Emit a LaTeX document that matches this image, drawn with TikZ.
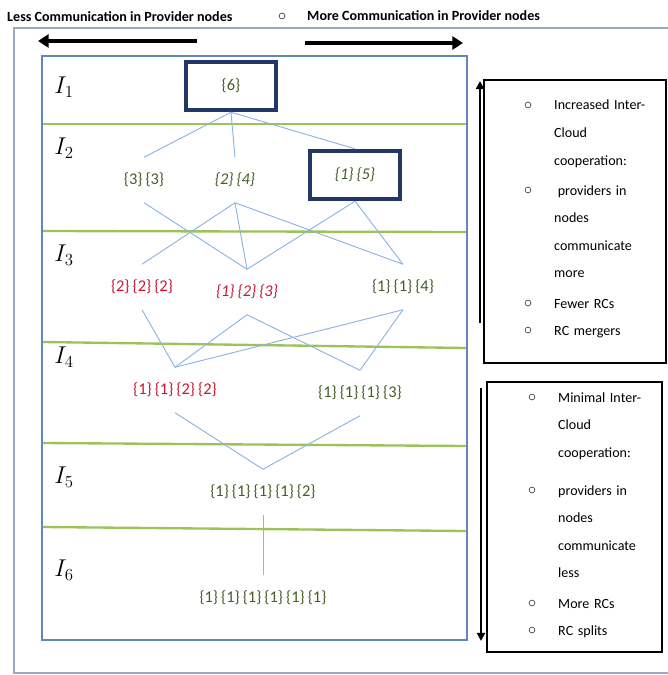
\documentclass[tikz,border=0pt]{standalone}
\usepackage{fontspec}
\setmainfont{Carlito}
\usepackage{tikz}
\usetikzlibrary{positioning,arrows.meta}

\definecolor{linkblue}{RGB}{141,179,226}
\definecolor{framblue}{RGB}{95,135,185}
\definecolor{outgray}{RGB}{150,170,195}
\definecolor{bandgreen}{RGB}{155,195,90}
\definecolor{boxnavy}{RGB}{35,55,100}
\definecolor{partgreen}{RGB}{70,95,40}
\definecolor{partred}{RGB}{200,25,50}

\newcommand{\bl}[1]{\{#1\}}
\newcommand{\gp}{\hspace{2.6pt}}

\begin{document}
\begin{tikzpicture}[x=0.03cm,y=-0.03cm,
	part/.style={font=\fontsize{14}{16}\selectfont, text=partgreen, minimum height=1.35cm, inner sep=1pt},
	redpart/.style={part, text=partred},
	chosen/.style={draw=boxnavy, line width=3.5pt, minimum width=2.7cm, minimum height=1.45cm},
	level/.style={font=\fontsize{20}{22}\selectfont},
	link/.style={draw=linkblue, line width=0.8pt},
	band/.style={draw=bandgreen, line width=2pt},
	bigarrow/.style={line width=4pt, -{Triangle[length=9pt,width=11pt]}},
	sidearrow/.style={line width=2pt, -{Triangle[length=7pt,width=7pt]}},
	sidebox/.style={draw, line width=1pt},
	note/.style={font=\fontsize{12}{23.6}\selectfont, align=left, text width=3.4cm, anchor=base west, inner sep=0pt},
	dot/.style={circle, draw=black!70, line width=0.6pt, minimum size=5pt, inner sep=0pt}
]

% canvas %{{{2

	\useasboundingbox (0,0) rectangle (667,675);

% frames %{{{2

	\draw[outgray, line width=1.2pt] (14,28) rectangle (672,673);
	\draw[framblue, line width=1.5pt] (42,56) rectangle (467,640);

% bands %{{{2

	\foreach \a/\b in {124/124,231/232,342/348,443/446,527/531} {
		\draw[band] (43,\a) -- (466,\b);
	}

% level labels %{{{2

	\foreach \i/\y in {1/87,2/148,3/255,4/357,5/477,6/570} {
		\node[level] (l\i) at (64,\y) {$I_{\i}$};
	}

% partitions %{{{2

	\node[part, chosen] (p6) at (231,86) {\bl{6}};

	\node[part] (p33) at (144,180) {\bl{3}\gp\bl{3}};
	\node[part] (p24) at (235,180) {\itshape\bl{2}\gp\bl{4}};
	\node[part, chosen] (p15) at (355,175) {\itshape\bl{1}\gp\bl{5}};

	\node[redpart] (p222) at (142,287) {\bl{2}\gp\bl{2}\gp\bl{2}};
	\node[redpart] (p123) at (247,292) {\itshape\bl{1}\gp\bl{2}\gp\bl{3}};
	\node[part] (p114) at (403,287) {\bl{1}\gp\bl{1}\gp\bl{4}};

	\node[redpart] (p1122) at (175,390) {\bl{1}\gp\bl{1}\gp\bl{2}\gp\bl{2}};
	\node[part] (p1113) at (360,393) {\bl{1}\gp\bl{1}\gp\bl{1}\gp\bl{3}};

	\node[part] (p11112) at (263,492) {\bl{1}\gp\bl{1}\gp\bl{1}\gp\bl{1}\gp\bl{2}};

	\node[part] (p111111) at (263,598) {\bl{1}\gp\bl{1}\gp\bl{1}\gp\bl{1}\gp\bl{1}\gp\bl{1}};

% links %{{{2

	\foreach \a/\b in {p6/p33,p6/p24,p6/p15,
		p33/p123,p24/p222,p24/p123,p24/p114,p15/p123,p15/p114,
		p222/p1122,p123/p1122,p123/p1113,p114/p1122,p114/p1113,
		p1122/p11112,p1113/p11112,p11112/p111111} {
		\draw[link] (\a.south) -- (\b.north);
	}

% heading %{{{2

	\node[anchor=west, font=\bfseries\fontsize{12}{14}\selectfont, inner sep=0pt] (less) at (7,17) {Less Communication in Provider nodes};
	\node[dot] (topdot) at (282,16) {};
	\node[anchor=west, font=\bfseries\fontsize{12}{14}\selectfont, inner sep=0pt] (more) at (307,16) {More Communication in Provider nodes};

	\coordinate (lessA) at (197,41);
	\coordinate (lessB) at (38,41);
	\coordinate (moreA) at (305,43);
	\coordinate (moreB) at (463,43);

	\draw[bigarrow] (lessA) -- (lessB);
	\draw[bigarrow] (moreA) -- (moreB);

% side boxes %{{{2

	\node[sidebox, minimum width=5.46cm, minimum height=8.49cm] (upbox) at (575,221.5) {};
	\node[sidebox, minimum width=5.25cm, minimum height=8.1cm] (downbox) at (574.5,517) {};

	\coordinate (upA) at (480,323);
	\coordinate (upB) at (480,81);
	\coordinate (downA) at (481,388);
	\coordinate (downB) at (481,641);

	\draw[sidearrow] (upA) -- (upB);
	\draw[sidearrow] (downA) -- (downB);

% notes %{{{2

	\foreach \n/\x/\y/\t in {
		a/528/105/{Increased Inter-\\Cloud\\cooperation:},
		b/528/190/{\hspace*{3pt}providers in\\nodes\\communicate\\more},
		c/528/303/{Fewer RCs},
		d/528/330/{RC mergers},
		e/532/397/{Minimal Inter-\\Cloud\\cooperation:},
		f/532/490/{providers in\\nodes\\communicate\\less},
		g/532/603/{More RCs},
		h/532/630/{RC splits}} {
		\node[dot] (dot\n) at (\x,\y) {};
		\node[note] (note\n) at (\x+26,\y+5) {\t};
	}

% closing %{{{2

\end{tikzpicture}
\end{document}
